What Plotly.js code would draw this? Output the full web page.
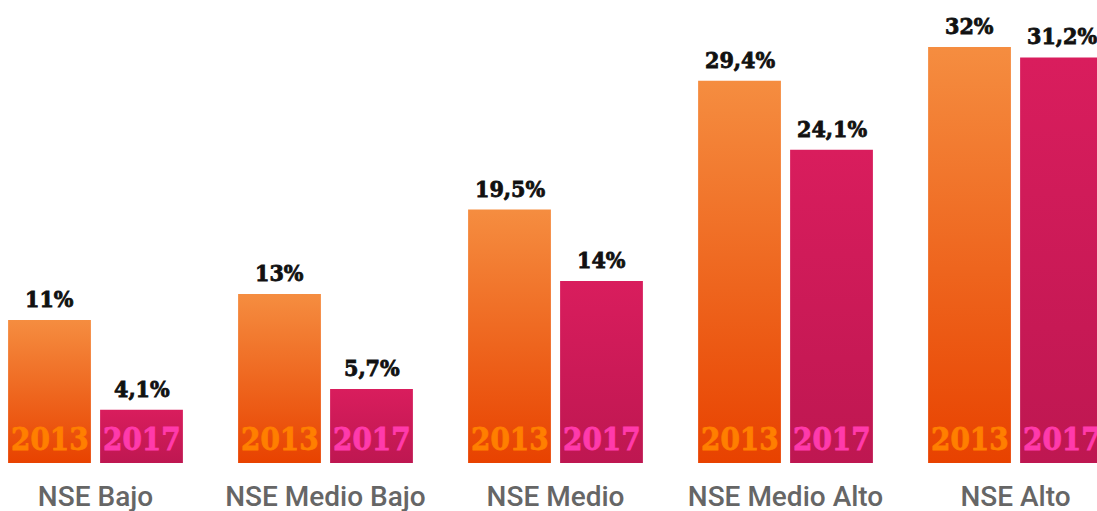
<!DOCTYPE html>
<html>
<head>
<meta charset="utf-8">
<script src="https://cdn.plot.ly/plotly-3.0.1.min.js"></script>
<style>
  html, body { margin: 0; padding: 0; background: #fff; }
  #plot { width: 1097px; height: 511px; }
</style>
</head>
<body>
<div id="plot"></div>
<script>
// Datos
const categorias = ['NSE Bajo', 'NSE Medio Bajo', 'NSE Medio', 'NSE Medio Alto', 'NSE Alto'];
const valores2013 = [11, 13, 19.5, 29.4, 32];
const valores2017 = [4.1, 5.7, 14, 24.1, 31.2];
const etiquetas2013 = ['11%', '13%', '19,5%', '29,4%', '32%'];
const etiquetas2017 = ['4,1%', '5,7%', '14%', '24,1%', '31,2%'];
const anios = ['2013', '2017'];

const slab = '"DejaVu Serif Condensed", "DejaVu Serif", serif';

const traza2013 = {
    x: categorias,
    y: valores2013,
    type: 'bar',
    name: anios[0],
    marker: { color: '#ee6420' },
    hoverinfo: 'none'
};

const traza2017 = {
    x: categorias,
    y: valores2017,
    type: 'bar',
    name: anios[1],
    marker: { color: '#cc1a57' },
    hoverinfo: 'none'
};

// Etiquetas de valor sobre las barras y años dentro de las barras
const anotaciones = [];
categorias.forEach((c, i) => {
    anotaciones.push({
        x: c, y: valores2013[i], text: etiquetas2013[i], showarrow: false,
        xshift: -46, yanchor: 'bottom', yshift: 6,
        font: { family: slab, size: 23, color: '#111', weight: 'bold' }
    });
    anotaciones.push({
        x: c, y: valores2017[i], text: etiquetas2017[i], showarrow: false,
        xshift: 46, yanchor: 'bottom', yshift: 6,
        font: { family: slab, size: 23, color: '#111', weight: 'bold' }
    });
    anotaciones.push({
        x: c, y: 0, text: anios[0], showarrow: false,
        xshift: -46, yanchor: 'bottom', yshift: 4,
        font: { family: slab, size: 31, color: '#ff7f00', weight: 'bold' }
    });
    anotaciones.push({
        x: c, y: 0, text: anios[1], showarrow: false,
        xshift: 46, yanchor: 'bottom', yshift: 4,
        font: { family: slab, size: 31, color: '#ff3aab', weight: 'bold' }
    });
});

const layout = {
    width: 1097,
    height: 511,
    margin: { l: 0, r: 0, t: 0, b: 48 },
    paper_bgcolor: '#fff',
    plot_bgcolor: '#fff',
    showlegend: false,
    barmode: 'group',
    bargap: 0.2,
    bargroupgap: 0.1,
    xaxis: {
        type: 'category',
        range: [-0.4152, 4.3543],
        showgrid: false, zeroline: false, showline: false, ticks: '',
        tickfont: { family: 'Roboto, sans-serif', size: 28, color: '#666', weight: 500 },
        ticklabelstandoff: 14
    },
    yaxis: {
        range: [0, 35.615],
        visible: false
    },
    annotations: anotaciones
};

Plotly.newPlot('plot', [traza2013, traza2017], layout, { staticPlot: true }).then(gd => {
    // Degradado vertical en cada barra
    const svg = gd.querySelector('svg.main-svg');
    const ns = 'http://www.w3.org/2000/svg';
    let defs = svg.querySelector('defs');
    const grads = [['g2013', '#f58d40', '#e84200'], ['g2017', '#d91d5d', '#be1751']];
    grads.forEach(([id, top, bottom]) => {
        const lg = document.createElementNS(ns, 'linearGradient');
        lg.setAttribute('id', id);
        lg.setAttribute('x1', '0'); lg.setAttribute('y1', '0');
        lg.setAttribute('x2', '0'); lg.setAttribute('y2', '1');
        [[0, top], [1, bottom]].forEach(([o, c]) => {
            const s = document.createElementNS(ns, 'stop');
            s.setAttribute('offset', o);
            s.setAttribute('stop-color', c);
            lg.appendChild(s);
        });
        defs.appendChild(lg);
    });
    gd.querySelectorAll('.barlayer .trace').forEach((t, k) => {
        t.querySelectorAll('.point path').forEach(p => {
            p.style.fill = 'url(#' + grads[k][0] + ')';
        });
    });
    // Trazo fino para engrosar los textos
    gd.querySelectorAll('.annotation-text').forEach(t => {
        t.style.stroke = t.style.fill;
        t.style.strokeWidth = '0.8px';
    });
});
</script>
</body>
</html>
